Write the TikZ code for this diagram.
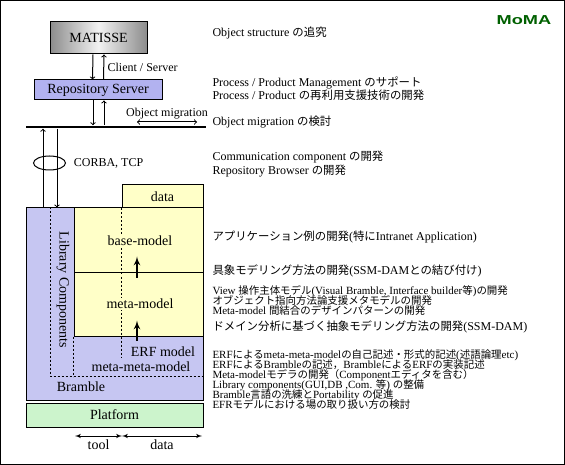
\documentclass[tikz,border=0pt]{standalone}
\usepackage{fontspec}
\setmainfont{Liberation Serif}
\newfontfamily\jpfont[Scale=0.95]{Noto Sans CJK JP}
\newfontfamily\logofont[FakeStretch=1.4]{Liberation Sans}
\usetikzlibrary{shapes, arrows}
\newcommand{\ja}[1]{{\jpfont #1}}
\lineskiplimit=-20pt

\definecolor{dither}{RGB}{198,198,242}
\definecolor{serverblue}{RGB}{178,178,240}
\definecolor{paleyellow}{RGB}{255,255,200}
\definecolor{palegreen}{RGB}{204,244,204}
\definecolor{logogreen}{RGB}{0,96,0}

\tikzstyle{layer} =
        [
                rectangle,
                draw,
                inner sep = 0pt,
                font = \fontsize{14}{16}\selectfont
        ]
\tikzstyle{tag} =
        [
                inner sep = 1pt,
                font = \fontsize{14}{16}\selectfont
        ]
\tikzstyle{note} =
        [
                anchor = west,
                align = left,
                inner sep = 0pt
        ]
\tikzstyle{dense} =
        [
                font = \fontsize{11}{10}\selectfont
        ]
\tikzstyle{line} =
        [
                draw,
                ->
        ]
\tikzstyle{lift} =
        [
                draw,
                line width = 2pt,
                -latex'
        ]
\tikzstyle{span} =
        [
                draw,
                latex'-latex'
        ]

\begin{document}
\begin{tikzpicture}[x = 1pt, y = -1pt, line width = 1pt, font = \fontsize{12}{13.5}\selectfont]
        \useasboundingbox (0,0) rectangle (565,465);
        \draw (0.5,0.5) rectangle (564.5,464.5);

        % server side
        \node [layer, left color = black!45, right color = black!45, middle color = black!5,
               minimum width = 97pt, minimum height = 32pt] (matisse) at (98.5,38) {MATISSE};
        \node [layer, fill = serverblue, minimum width = 128pt, minimum height = 20pt,
               below of = matisse, node distance = 52pt, xshift = -0.5pt] (repo) {Repository Server};
        \node [fill, inner sep = 0pt, minimum width = 180pt, minimum height = 2.5pt] (bus) at (116,127) {};

        \path [line] ([xshift = -5.5pt]matisse.south) -- ([xshift = -5.5pt]repo.north);
        \path [line] ([xshift = 5.5pt]repo.north) -- node [right] {Client / Server} ([xshift = 5.5pt]matisse.south);
        \path [line] ([xshift = -5pt]repo.south) -- ([xshift = -5pt]repo.south |- bus.north);
        \path [line] ([xshift = 6pt]repo.south |- bus.north) -- ([xshift = 6pt]repo.south);

        \coordinate (om1) at (137,122);
        \coordinate (om2) at (197,122);
        \draw [<->] (om1) -- node [above, inner sep = 2pt] {Object migration} (om2);

        % layers
        \node [layer, fill = dither, minimum width = 177pt, minimum height = 192pt] (bramble) at (114.5,304) {};
        \node [layer, fill = paleyellow, minimum width = 129pt, minimum height = 64pt] (base) at (138.5,240) {};
        \node [layer, fill = paleyellow, minimum width = 129pt, minimum height = 64pt,
               below of = base, node distance = 64pt] (metam) {};
        \node [layer, fill = paleyellow, minimum width = 81pt, minimum height = 23pt] (data) at (162.5,196.5) {data};
        \node [layer, fill = palegreen, minimum width = 177pt, minimum height = 24pt,
               below of = bramble, node distance = 111pt] (platform) {Platform};

        \draw [dash pattern = on 2pt off 2pt] ([xshift = 25pt]bramble.north west) |- ([shift = {(-1,-24)}]bramble.south east);
        \draw [dash pattern = on 2pt off 2pt] (metam.south west) -- ++(0,40);
        \draw [dash pattern = on 2pt off 2pt] (data.south west) -- ++(0,149);

        \node [tag, fill = paleyellow] (basel) at (140,241) {base-model};
        \node [tag, fill = paleyellow] (metal) at (140,304) {meta-model};
        \node [tag] (erf) at (163,352) {ERF model};
        \node [tag] (mmm) at (141,367) {meta-meta-model};
        \node [tag] (bra) at (81,387) {Bramble};
        \node [tag, rotate = -90] (libc) at (63,290) {Library Components};

        \path [lift] ([shift = {(-1.5,6)}]metam.north) -- ++(0,-21);
        \path [lift] ([shift = {(-1.5,4)}]metam.south) -- ++(0,-20);

        % communication
        \path [line] ([xshift = -71.5pt]bramble.north) -- ([xshift = -71.5pt]bramble.north |- bus.south);
        \path [line] ([xshift = -57.5pt]bramble.north |- bus.south) -- ([xshift = -57.5pt]bramble.north);
        \node [draw, ellipse, inner sep = 0pt, minimum width = 32pt, minimum height = 14pt] (ring) at (49.5,163) {};
        \node [anchor = west, xshift = 4pt] (corba) at (ring.east) {CORBA, TCP};

        % tool / data
        \coordinate (tool0) at (75,436);
        \coordinate (tool1) at (122,436);
        \coordinate (data1) at (202,436);
        \path [span] (tool0) -- node [below, font = \fontsize{14}{16}\selectfont] {tool} (tool1);
        \path [span] (tool1) -- node [below, font = \fontsize{14}{16}\selectfont] {data} (data1);

        \node [text = logogreen, font = \logofont\bfseries\fontsize{13}{15}\selectfont] (logo) at (524,20) {MoMA};

        % research items
        \node [note] (n1) at (212,33) {Object structure \ja{の追究}};
        \node [note] (n2) at (212,88.5) {Process / Product Management \ja{のサポート}\\
                Process / Product \ja{の再利用支援技術の開発}};
        \node [note] (n3) at (212,122) {Object migration \ja{の検討}};
        \node [note] (n4) at (212,164) {Communication component \ja{の開発}\\
                Repository Browser \ja{の開発}};
        \node [note] (n5) at (212,237) {\ja{アプリケーション例の開発}(\ja{特に}Intranet Application)};
        \node [note] (n6) at (212,271) {\ja{具象モデリング方法の開発}(SSM-DAM\ja{との結び付け})};
        \node [note, dense] (n7) at (212,300.5) {View \ja{操作主体モデル}(Visual Bramble, Interface builder\ja{等})\ja{の開発}\\
                \ja{オブジェクト指向方法論支援メタモデルの開発}\\
                Meta-model \ja{間結合のデザインパターンの開発}};
        \node [note] (n8) at (212,327) {\ja{ドメイン分析に基づく抽象モデリング方法の開発}(SSM-DAM)};
        \node [note, dense] (n9) at (212,380) {ERF\ja{による}meta-meta-model\ja{の自己記述・形式的記述}(\ja{述語論理}etc)\\
                ERF\ja{による}Bramble\ja{の記述，}Bramble\ja{による}ERF\ja{の実装記述}\\
                Meta-model\ja{モデラの開発（}Component\ja{エディタを含む）}\\
                Library components(GUI,DB ,Com. \ja{等}) \ja{の整備}\\
                Bramble\ja{言語の洗練と}Portability \ja{の促進}\\
                EFR\ja{モデルにおける場の取り扱い方の検討}};
\end{tikzpicture}
\end{document}
